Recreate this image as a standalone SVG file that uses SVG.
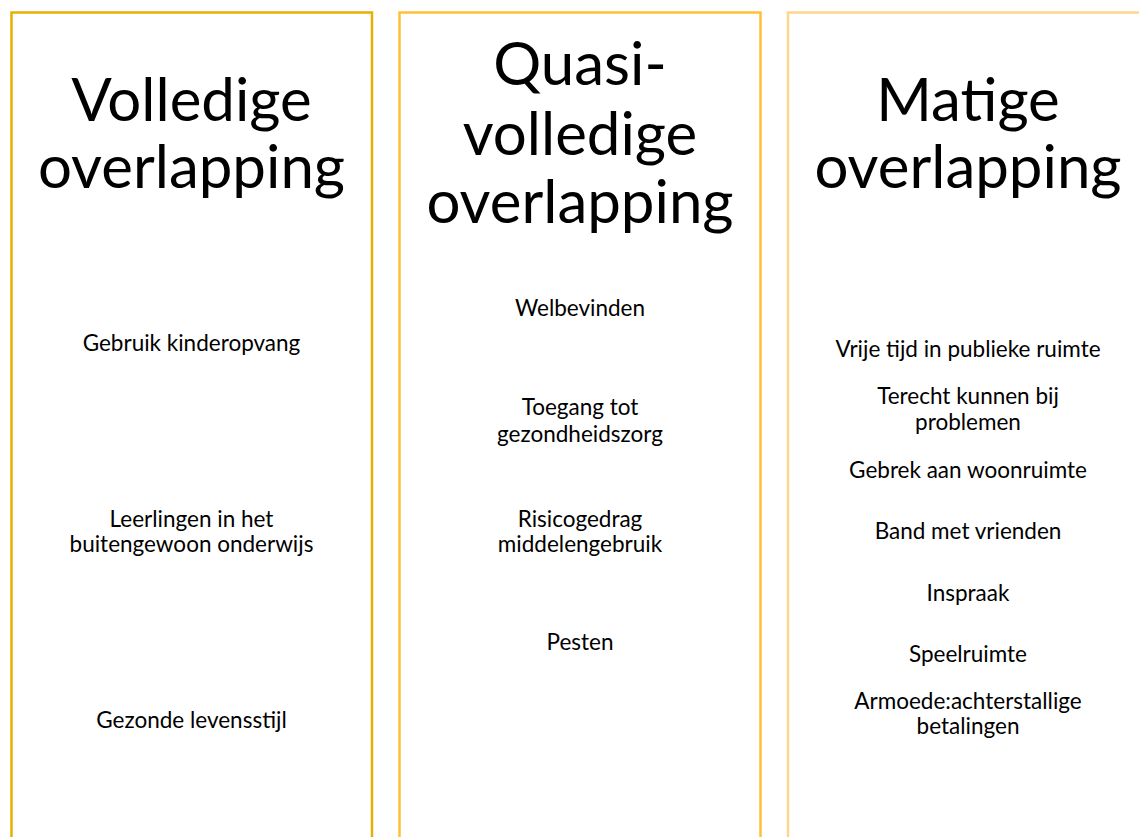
<svg xmlns="http://www.w3.org/2000/svg" width="1139" height="837" viewBox="0 0 1139 837">
<style>
.t{font-family:Lato,"Open Sans",sans-serif;font-size:60px;fill:#000;text-anchor:middle}
.s{font-family:Lato,"Open Sans",sans-serif;font-size:22.5px;fill:#000;text-anchor:middle}
.b{fill:#fff;stroke-width:2.5}
</style>
<rect width="1139" height="837" fill="#fff"/>
<g id="col1">
<rect class="b" x="11.5" y="12.5" width="360.5" height="900" stroke="#E8AE00"/>
<text class="t" x="191.5" y="121">Volledige</text>
<text class="t" x="191.5" y="188">overlapping</text>
<text class="s" x="191.5" y="351">Gebruik kinderopvang</text>
<text class="s" x="191.5" y="527">Leerlingen in het</text>
<text class="s" x="191.5" y="552">buitengewoon onderwijs</text>
<text class="s" x="191.5" y="728">Gezonde levensstijl</text>
</g>
<g id="col2">
<rect class="b" x="399.5" y="12.5" width="361" height="900" stroke="#FFC133"/>
<text class="t" x="580" y="85">Quasi-</text>
<text class="t" x="580" y="155">volledige</text>
<text class="t" x="580" y="223">overlapping</text>
<text class="s" x="580" y="316">Welbevinden</text>
<text class="s" x="580" y="415">Toegang tot</text>
<text class="s" x="580" y="442">gezondheidszorg</text>
<text class="s" x="580" y="527">Risicogedrag</text>
<text class="s" x="580" y="552">middelengebruik</text>
<text class="s" x="580" y="650">Pesten</text>
</g>
<g id="col3">
<rect class="b" x="788" y="12.5" width="400" height="900" stroke="#FFD68C"/>
<text class="t" x="968" y="121">Matige</text>
<text class="t" x="968" y="188">overlapping</text>
<text class="s" x="968" y="357">Vrije tijd in publieke ruimte</text>
<text class="s" x="968" y="404">Terecht kunnen bij</text>
<text class="s" x="968" y="430">problemen</text>
<text class="s" x="968" y="478">Gebrek aan woonruimte</text>
<text class="s" x="968" y="539">Band met vrienden</text>
<text class="s" x="968" y="601">Inspraak</text>
<text class="s" x="968" y="662">Speelruimte</text>
<text class="s" x="968" y="709">Armoede:achterstallige</text>
<text class="s" x="968" y="734">betalingen</text>
</g>
</svg>
